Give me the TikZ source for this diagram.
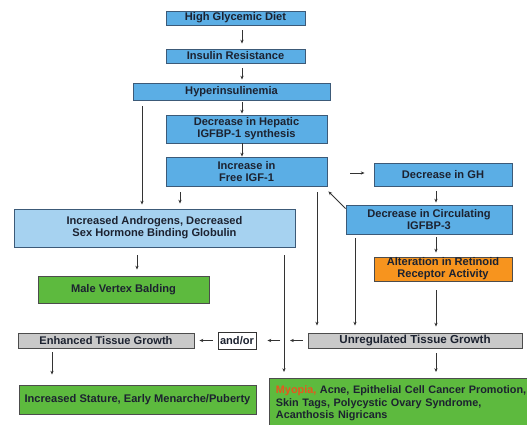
\documentclass[tikz,border=0pt]{standalone}
\usepackage{fontspec}
\setmainfont{Liberation Sans}
\usetikzlibrary{arrows.meta,calc}
\definecolor{bluebox}{HTML}{5BAEE5}
\definecolor{lightblue}{HTML}{A6D2F0}
\definecolor{greenbox}{HTML}{5DBA3E}
\definecolor{orangebox}{HTML}{F7941E}
\definecolor{graybox}{HTML}{C9C9C9}
\definecolor{edgecol}{HTML}{3C5A78}
\definecolor{txt}{HTML}{1C2230}
\definecolor{myop}{HTML}{E8561E}
\definecolor{arr}{HTML}{333333}
\begin{document}
\begin{tikzpicture}[x=1pt,y=-1pt,
  box/.style={draw=edgecol,line width=0.9pt,inner sep=0pt,align=center,
     font=\fontsize{11.1}{12}\selectfont\bfseries,text=txt},
  bl/.style={box,fill=bluebox},
  lb/.style={box,fill=lightblue},
  gr/.style={box,fill=greenbox,draw=black!70},
  og/.style={box,fill=orangebox,draw=black!70},
  gy/.style={box,fill=graybox,draw=black!70},
  wh/.style={box,fill=white,draw=black!80},
  ar/.style={draw=arr,line width=0.8pt,-{Stealth[length=3.8pt,width=3.2pt]}},
  ln/.style={draw=arr,line width=0.8pt}]
\clip (0,0) rectangle (527,425);
\fill[white] (0,0) rectangle (527,425);

\node[bl,minimum width=139,minimum height=14] (diet) at (235.5,18) {High Glycemic Diet};
\node[bl,minimum width=139,minimum height=14] (ins) at (235.5,56) {Insulin Resistance};
\node[bl,minimum width=197,minimum height=17] (hyper) at (231.5,91.5) {Hyperinsulinemia};
\node[bl,minimum width=161,minimum height=28] (hep) at (246.5,129) {Decrease in Hepatic\\IGFBP-1 synthesis};
\node[bl,minimum width=161,minimum height=29] (free) at (246.5,171.5) {Increase in\\Free IGF-1};
\node[bl,minimum width=138,minimum height=23] (gh) at (443,174.5) {Decrease in GH};
\node[bl,minimum width=166,minimum height=29] (bp3) at (429,219.5) {Decrease in Circulating\\IGFBP-3};
\node[og,minimum width=138,minimum height=24] (ret) at (443,269) {Alteration in Retinoid\\Receptor Activity};
\node[lb,minimum width=281,minimum height=38] (andro) at (154.5,228) {Increased Androgens, Decreased\\Sex Hormone Binding Globulin};
\node[gr,minimum width=171,minimum height=27] (bald) at (123.5,289.5) {Male Vertex Balding};
\node[gy,minimum width=176,minimum height=15] (enh) at (106,340.5) {Enhanced Tissue Growth};
\node[wh,minimum width=38,minimum height=17] (andor) at (237,340.5) {and/or};
\node[gr,minimum width=237,minimum height=29] (stat) at (137.5,399.5) {Increased Stature, Early Menarche/Puberty};
\node[gy,minimum width=214,minimum height=15,font=\fontsize{11.6}{12}\selectfont\bfseries] (unreg) at (415,340.5) {Unregulated Tissue Growth};
\node[gr,anchor=north west,minimum width=265,minimum height=50,align=left,
      inner xsep=6.5pt,text width=252,font=\fontsize{10.85}{12.5}\selectfont\bfseries] (myo) at (269,378)
  {\textcolor{myop}{Myopia,} Acne, Epithelial Cell Cancer Promotion,\\Skin Tags, Polycystic Ovary Syndrome,\\Acanthosis Nigricans};

\coordinate (c1) at (290,340.5);
\coordinate (c2) at (280,340.5);

% main chain
\draw[ar,shorten <=5pt,shorten >=5pt] ([xshift=6.5pt]diet.south) -- ([xshift=6.5pt]ins.north);
\draw[ar,shorten <=5pt,shorten >=3pt] ([xshift=6.5pt]ins.south) -- ([xshift=10.5pt]hyper.north);
\draw[ar,shorten <=2pt,shorten >=1pt] ([xshift=10.5pt]hyper.south) -- ([xshift=-4.5pt]hep.north);
\draw[ar] ([xshift=-4.5pt]hep.south) -- ([xshift=-4.5pt]free.north);
% to androgens
\draw[ar,shorten <=6pt,shorten >=4pt] (hyper.south -| 142,0) -- (andro.north -| 142,0);
\draw[ar,shorten <=6pt,shorten >=5pt] (free.south -| 180,0) -- (andro.north -| 180,0);
% free -> GH
\draw[ar,shorten <=23pt,shorten >=9pt] ($(free.east)+(0,1.5)$) -- ($(gh.west)+(0,-1.5)$);
\draw[ar,shorten <=5pt,shorten >=2pt] (gh.south -| 436,0) -- (bp3.north -| 436,0);
\draw[ar] ($(bp3.north west)+(0,4)$) -- ($(free.south east)+(1,5)$);
\draw[ar,shorten <=3pt,shorten >=4pt] (bp3.south -| 436,0) -- (ret.north -| 436,0);
\draw[ar,shorten <=9pt,shorten >=6pt] (ret.south -| 436,0) -- (unreg.north -| 436,0);
\draw[ar,shorten <=6pt,shorten >=7pt] (free.south -| 317,0) -- (unreg.north -| 317,0);
\draw[ar,shorten <=4pt,shorten >=7pt] (bp3.south -| 355,0) -- (unreg.north -| 355,0);
% lower
\draw[ar,shorten <=8pt,shorten >=6pt] (andro.south -| 284,0) -- (myo.north -| 284,0);
\draw[ar,shorten <=5pt,shorten >=6pt] (unreg.south -| 436,0) -- (myo.north -| 436,0);
\draw[ar,shorten <=8pt,shorten >=6pt] (andro.south -| 137,0) -- (bald.north -| 137,0);
\draw[ar,shorten <=5pt] (unreg.west) -- (c1);
\draw[ar,shorten >=11pt] (c2) -- (andor.east);
\draw[ar,shorten <=5pt,shorten >=5pt] (andor.west) -- (enh.east);
\draw[ar,shorten <=4pt,shorten >=10pt] (enh.south -| 52,0) -- (stat.north -| 52,0);
\end{tikzpicture}
\end{document}
